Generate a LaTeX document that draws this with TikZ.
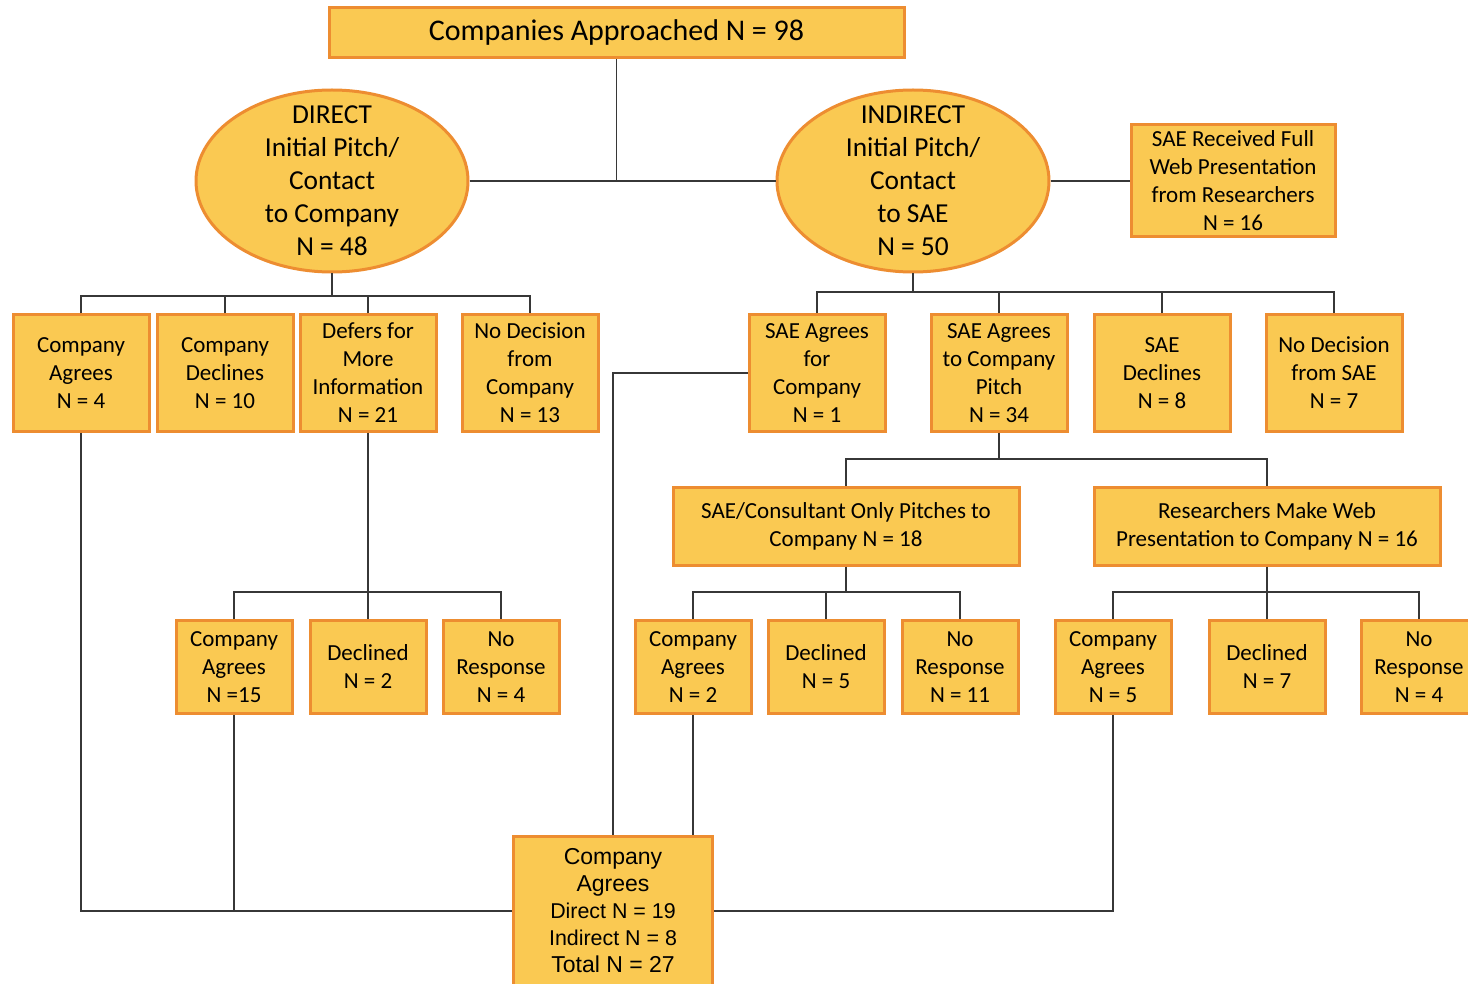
\documentclass[tikz,border=0pt]{standalone}
\usepackage{fontspec}
\setmainfont{Carlito}
\newfontfamily\arialfont{Liberation Sans}
\usetikzlibrary{shapes.geometric}
\definecolor{boxfill}{RGB}{250,201,82}
\definecolor{boxline}{RGB}{237,141,49}
\definecolor{wire}{RGB}{55,55,55}

\tikzset{
  box/.style={draw=boxline, fill=boxfill, line width=1.5pt, align=center,
    inner sep=0pt, font=\fontsize{11.5}{14}\selectfont},
  smallbox/.style={box, minimum width=68pt, minimum height=58pt},
  lowbox/.style={box, minimum width=58pt, minimum height=46.5pt},
  widebox/.style={box, minimum width=173pt, minimum height=39pt},
  oval/.style={ellipse, draw=boxline, fill=boxfill, line width=1.5pt, align=center,
    inner xsep=0pt, inner ysep=-10pt, minimum width=136pt, minimum height=91pt,
    font=\fontsize{13.7}{16.5}\selectfont},
  wires/.style={draw=wire, line width=0.75pt}
}

\begin{document}
\begin{tikzpicture}[x=0.5pt, y=-0.5pt]
\useasboundingbox (0,0) rectangle (1468,984);

% Top of the tree
\node[box, minimum width=287.5pt, minimum height=25pt, font=\fontsize{15}{18}\selectfont]
  (top) at (616.5,33) {Companies Approached N = 98};
\node[oval] (dir) at (332,181) {DIRECT\\Initial Pitch/\\Contact\\to Company\\N = 48};
\node[oval] (indir) at (913,181) {INDIRECT\\Initial Pitch/\\Contact\\to SAE\\N = 50};
\node[box, minimum width=102pt, minimum height=56pt] (web) at (1233,181)
  {SAE Received Full\\Web Presentation\\from Researchers\\N = 16};

% First row of outcomes
\node[smallbox] (ca4) at (81,373) {Company\\Agrees\\N = 4};
\node[smallbox] (cd10) at (225,373) {Company\\Declines\\N = 10};
\node[smallbox] (def21) at (368,373) {Defers for\\More\\Information\\N = 21};
\node[smallbox] (nd13) at (530,373) {No Decision\\from\\Company\\N = 13};
\node[smallbox] (sae1) at (817,373) {SAE Agrees\\for\\Company\\N = 1};
\node[smallbox] (sae34) at (999,373) {SAE Agrees\\to Company\\Pitch\\N = 34};
\node[smallbox] (sd8) at (1162,373) {SAE\\Declines\\N = 8};
\node[smallbox] (nds7) at (1334,373) {No Decision\\from SAE\\N = 7};

% Second row
\node[widebox] (cons) at (846,526) {SAE/Consultant Only Pitches to\\Company N = 18};
\node[widebox] (res) at (1267,526) {Researchers Make Web\\Presentation to Company N = 16};

% Third row
\node[lowbox] (ca15) at (234,667) {Company\\Agrees\\N =15};
\node[lowbox] (dc2) at (368,667) {Declined\\N = 2};
\node[lowbox] (nr4a) at (501,667) {No\\Response\\N = 4};
\node[lowbox] (ca2) at (693,667) {Company\\Agrees\\N = 2};
\node[lowbox] (dc5) at (826,667) {Declined\\N = 5};
\node[lowbox] (nr11) at (960,667) {No\\Response\\N = 11};
\node[lowbox] (ca5) at (1113,667) {Company\\Agrees\\N = 5};
\node[lowbox] (dc7) at (1267,667) {Declined\\N = 7};
\node[lowbox] (nr4b) at (1419,667) {No\\Response\\N = 4};

% Final box
\node[box, minimum width=99.5pt, minimum height=75pt, font=\arialfont\fontsize{11.5}{13.5}\selectfont]
  (final) at (613,911) {Company\\Agrees\\{\fontsize{10.7}{13}\selectfont Direct N = 19}\\{\fontsize{10.7}{13}\selectfont Indirect N = 8}\\Total N = 27};

% Bus lines
\coordinate (busA) at (332,296);
\coordinate (busB) at (913,292);
\coordinate (busC) at (999,459);
\coordinate (busD) at (368,592);
\coordinate (busE) at (846,592);
\coordinate (busF) at (1267,592);

% Connectors
\draw[wires] (dir.east) -- (indir.west);
\draw[wires] (top.south) -- (top.south |- dir.east);
\draw[wires] (indir.east) -- (web.west);

\draw[wires] (dir.south) -- (busA);
\draw[wires] (ca4.north) |- (busA) -| (nd13.north);
\draw[wires] (cd10.north) -- (cd10.north |- busA);
\draw[wires] (def21.north) -- (def21.north |- busA);

\draw[wires] (indir.south) -- (busB);
\draw[wires] (sae1.north) |- (busB) -| (nds7.north);
\draw[wires] (sae34.north) -- (sae34.north |- busB);
\draw[wires] (sd8.north) -- (sd8.north |- busB);

\draw[wires] (sae34.south) -- (busC);
\draw[wires] (cons.north) |- (busC) -| (res.north);

\draw[wires] (def21.south) -- (dc2.north);
\draw[wires] (ca15.north) |- (busD) -| (nr4a.north);

\draw[wires] (cons.south) -- (busE);
\draw[wires] (ca2.north) |- (busE) -| (nr11.north);
\draw[wires] (dc5.north) -- (dc5.north |- busE);

\draw[wires] (res.south) -- (busF);
\draw[wires] (ca5.north) |- (busF) -| (nr4b.north);
\draw[wires] (dc7.north) -- (dc7.north |- busF);

% Links into the final box
\draw[wires] (ca4.south) |- (final.west);
\draw[wires] (ca15.south) -- (ca15.south |- final.west);
\draw[wires] (ca5.south) |- (final.east);
\draw[wires] (ca2.south) -- (ca2.south |- final.north);
\draw[wires] (sae1.west) -| (final.north);
\end{tikzpicture}
\end{document}
